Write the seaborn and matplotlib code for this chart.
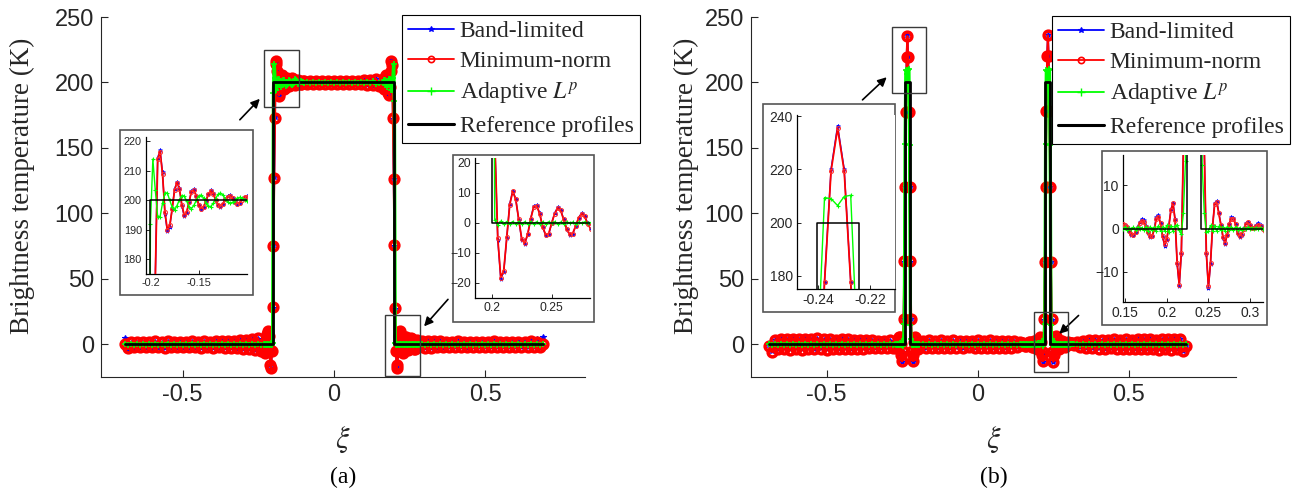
import numpy as np
import matplotlib
matplotlib.use("Agg")
import matplotlib.pyplot as plt
import seaborn as sns
from matplotlib.lines import Line2D
from matplotlib.patches import Rectangle

# ---------------- data (a): square profile, edges at +-0.2 ----------------
# (start, step) of the sample segments along xi
segs_a = [(-0.69, 0.01), (-0.2325, 0.0025), (-0.09, 0.01), (0.1625, 0.0025), (0.29, 0.01)]

red_a = [
    [0.5, -2.5, 2.0, -2.2, 1.8, -2.4, 2.1, -2.0, 1.9, -2.3,
     2.2, -2.1, 1.8, -2.5, 2.3, -2.0, 2.1, -2.2, 1.9, -2.4,
     2.0, -2.3, 2.2, -2.1, 1.8, -2.6, 2.4, -2.2, 2.1, -2.5,
     2.3, -2.4, 2.5, -2.8, 2.6, -2.9, 2.8, -3.2, 3.0, -3.5,
     3.4, -3.8, 3.9, -4.3, 4.5, -4.8],
    [1.3, -3.6, -6.5, -5.0, 1.0, 8.0, 10.2, 6.2, -4.6, -15.6,
     -18.0, -5.3, 28.2, 75.0, 127.0, 173.0, 214.0, 216.5, 209.0, 196.0,
     190.0, 191.5, 197.0, 203.5, 206.0, 204.0, 198.5, 195.0, 196.0, 199.5,
     203.0, 203.4, 201.5, 198.5, 197.2, 197.8, 199.8, 202.0, 203.2, 202.3,
     200.2, 198.5, 198.0, 198.8, 200.3, 201.3, 201.5, 200.8, 199.5, 198.9,
     199.2, 200.2, 201.0, 201.2, 200.6],
    [199.0, 201.4, 198.8, 201.2, 198.9, 201.0, 199.1, 200.9, 199.0, 201.0,
     199.0, 200.9, 199.1, 201.1, 198.9, 201.2, 198.7, 201.4, 198.6, 201.6,
     198.3, 202.0, 197.8, 202.6, 197.5],
    [196.2, 195.2, 198.8, 203.8, 205.8, 203.2, 197.3, 191.8, 190.2, 196.4,
     208.7, 216.3, 213.6, 172.5, 126.5, 75.5, 27.5, -5.1, -18.2, -15.9,
     -4.8, 6.0, 10.4, 7.8, 1.1, -5.3, -6.8, -3.8, 1.3, 5.2,
     5.6, 3.0, -1.4, -4.0, -3.7, -0.1, 3.0, 4.9, 4.1, 1.1,
     -2.0, -3.9, -3.6, -1.1, 1.6, 3.0, 2.1, -0.3, -2.0],
    [2.6, -2.8, 2.5, -2.6, 2.3, -2.4, 2.2, -2.3, 2.1, -2.2,
     2.0, -2.1, 2.2, -2.0, 1.9, -2.3, 2.1, -2.2, 2.0, -2.1,
     1.9, -2.2, 2.0, -2.1, 2.2, -1.9, 2.0, -2.3, 2.1, -2.0,
     1.9, -2.2, 2.0, -2.1, 1.8, -2.3, 2.2, -2.0, 1.9, -2.4,
     0.5],
]

blue_a = [
    [4.5, -4.8, 1.2, -3.4, 1.0, -3.2, 1.3, -3.0, 1.1, -3.3,
     1.4, -3.0, 1.2, -3.1, 1.6, -2.8, 1.5, -2.9, 1.4, -3.0,
     1.6, -2.8, 1.8, -2.6, 1.6, -2.9, 2.1, -2.6, 1.9, -2.8,
     2.2, -2.6, 2.4, -3.0, 2.5, -3.0, 2.7, -3.3, 2.9, -3.6,
     3.3, -3.9, 3.8, -4.4, 4.4, -4.9],
    [1.0, -3.9, -6.8, -5.2, 1.3, 8.4, 10.5, 6.0, -5.0, -16.2,
     -18.6, -5.8, 28.0, 75.5, 127.5, 173.5, 214.5, 217.0, 209.5, 195.5,
     189.5, 191.0, 197.2, 203.8, 206.3, 204.2, 198.2, 194.6, 195.7, 199.4,
     203.2, 203.7, 201.6, 198.3, 196.9, 197.6, 199.9, 202.2, 203.4, 202.4,
     200.1, 198.3, 197.8, 198.7, 200.4, 201.5, 201.7, 200.9, 199.4, 198.7,
     199.1, 200.3, 201.2, 201.4, 200.7],
    [198.8, 201.6, 198.6, 201.4, 198.7, 201.2, 198.9, 201.1, 198.8, 201.2,
     198.8, 201.1, 198.9, 201.3, 198.7, 201.4, 198.5, 201.6, 198.4, 201.8,
     198.1, 202.2, 197.6, 202.8, 197.3],
    [196.0, 194.9, 198.9, 204.1, 206.1, 203.4, 197.0, 191.4, 189.8, 196.5,
     209.2, 216.9, 214.0, 172.0, 126.0, 75.0, 27.0, -5.6, -18.6, -16.3,
     -5.0, 6.2, 10.7, 7.9, 1.0, -5.6, -7.0, -3.9, 1.4, 5.5,
     5.9, 3.1, -1.5, -4.2, -3.9, -0.2, 3.2, 5.1, 4.3, 1.2,
     -2.1, -4.1, -3.8, -1.2, 1.7, 3.2, 2.4, -0.2, -1.8],
    [2.9, -3.0, 2.7, -2.8, 2.5, -2.6, 2.4, -2.5, 2.3, -2.4,
     2.2, -2.3, 2.4, -2.2, 2.1, -2.5, 2.3, -2.4, 2.2, -2.3,
     2.1, -2.4, 2.3, -2.3, 2.6, -2.1, 2.5, -2.4, 2.9, -2.2,
     3.0, -2.3, 3.3, -2.2, 3.6, -2.4, 4.0, -2.3, 4.4, -2.6,
     5.2],
]

green_a = [
    [0.3, -0.4, 0.5, -0.3, 0.2, -0.4, 0.4, -0.2, 0.3, -0.5,
     0.4, -0.3, 0.2, -0.4, 0.5, -0.3, 0.3, -0.2, 0.4, -0.4,
     0.3, -0.3, 0.5, -0.4, 0.2, -0.3, 0.4, -0.5, 0.3, -0.2,
     0.4, -0.3, 0.3, -0.4, 0.5, -0.3, 0.2, -0.4, 0.4, -0.3,
     0.5, -0.4, 0.3, -0.5, 0.4, -0.3],
    [0.2, -0.3, 0.3, -0.2, 0.2, -0.3, 0.4, -0.4, 0.5, -0.5,
     0.6, -0.6, 0.8, 192.0, 214.0, 203.5, 194.5, 194.5, 199.0, 202.5,
     202.5, 200.0, 197.7, 196.8, 198.2, 200.2, 201.6, 201.5, 199.8, 197.8,
     197.2, 198.3, 200.0, 201.4, 201.8, 200.8, 199.2, 198.0, 197.9, 199.0,
     200.6, 202.0, 202.5, 201.8, 200.5, 199.5, 199.0, 199.3, 200.0, 200.8,
     201.0, 200.7, 200.2, 199.8, 199.8],
    [200.4, 199.6, 200.3, 199.7, 200.4, 199.6, 200.3, 199.6, 200.4, 199.7,
     200.3, 199.6, 200.4, 199.7, 200.3, 199.6, 200.4, 199.7, 200.5, 199.5,
     200.6, 199.4, 200.8, 199.2, 199.5],
    [199.8, 201.5, 201.6, 200.2, 198.2, 196.8, 197.7, 200.0, 202.5, 202.5,
     199.0, 194.5, 194.5, 203.5, 214.0, 186.0, 0.8, -0.6, 0.5, -0.5,
     0.4, -0.4, 0.4, -0.3, 0.4, -0.4, 0.3, -0.3, 0.4, -0.3,
     0.3, -0.4, 0.3, -0.3, 0.3, -0.2, 0.3, -0.3, 0.2, -0.3,
     0.3, -0.2, 0.2, -0.3, 0.2, -0.2, 0.3, -0.2, 0.2],
    [0.3, -0.4, 0.4, -0.3, 0.5, -0.4, 0.3, -0.2, 0.4, -0.3,
     0.3, -0.4, 0.2, -0.3, 0.4, -0.4, 0.5, -0.3, 0.3, -0.2,
     0.4, -0.3, 0.3, -0.4, 0.5, -0.3, 0.2, -0.4, 0.4, -0.3,
     0.3, -0.2, 0.4, -0.4, 0.3, -0.3, 0.5, -0.4, 0.3, -0.3,
     0.2],
]

ref_a_x = [-0.69, -0.2, -0.2, 0.2, 0.2, 0.69]
ref_a_y = [0, 0, 200, 200, 0, 0]

# ---------------- data (b): two narrow pulses at +-0.2325 ----------------
segs_b = [(-0.69, 0.01), (-0.2725, 0.0025), (-0.18, 0.01), (0.145, 0.0025), (0.33, 0.01)]

red_b = [
    [-1.0, -6.0, 3.5, -3.8, 4.2, -3.5, 3.8, -4.0, 4.4, -3.6,
     3.9, -4.1, 4.3, -3.4, 3.7, -3.9, 4.5, -3.6, 3.8, -4.2,
     4.0, -3.5, 3.6, -3.9, 4.2, -3.4, 3.8, -3.7, 3.5, -3.6,
     3.4, -3.3, 3.6, -3.2, 3.0, -3.1, 2.8, -2.9, 2.6, -2.7,
     2.9, -3.0],
    [-1.2, -3.1, -2.0, 1.0, 3.8, 5.9, 5.2, 0.2, -8.4, -13.1,
     -5.3, 19.5, 63.5, 120.5, 177.5, 219.5, 235.5, 219.5, 177.5, 120.5,
     63.5, 19.5, -5.3, -12.8, -8.3, 1.6, 5.5, 4.4, 0.8, -2.2,
     -3.5, -2.0, 0.9],
    [2.8, -3.2, 3.0, -2.6, 2.4, -2.8, 2.9, -2.5, 2.3, -2.9,
     3.1, -2.7, 2.5, -3.0, 2.8, -2.4, 2.6, -2.9, 3.0, -2.6,
     2.4, -2.7, 2.9, -3.1, 2.7, -2.5, 2.6, -2.8, 2.4, -2.6,
     2.2, -2.3, 1.9],
    [0.5, 1.0, 0.8, 0.4, -0.5, -1.3, -1.5, -0.9, 0.2, 1.2,
     1.8, 1.5, 0.4, -0.9, -1.8, -1.8, -0.2, 2.2, 2.7, 1.2,
     -1.8, -3.7, -2.5, 0.5, 4.2, 5.8, 2.0, -8.0, -13.0, -5.6,
     19.0, 63.0, 120.0, 178.0, 220.0, 236.0, 220.0, 178.0, 120.0, 63.0,
     19.0, -5.6, -13.4, -8.0, 0.6, 5.7, 6.1, 3.5, 0.8, -1.9,
     -3.3, -1.4, 1.0, 2.3, 2.3, 1.0, -1.0, -1.8, -1.3, 0.0,
     1.0, 1.4, 0.7, 0.2, 0.2, 0.6, 0.9, 0.6, 0.0, -0.5],
    [1.5, -2.0, 2.6, -2.9, 3.2, -3.0, 3.4, -3.3, 3.1, -3.6,
     3.5, -3.2, 3.8, -3.4, 3.3, -3.7, 3.9, -3.5, 3.6, -3.8,
     4.0, -3.6, 3.7, -3.9, 4.1, -3.7, 3.5, -4.0, 3.8, -3.6,
     3.9, -4.2, 4.0, -3.8, 4.3, -5.5, -1.0],
]

blue_b = [
    [-0.6, -5.4, 3.1, -3.4, 3.8, -3.1, 3.4, -3.6, 4.0, -3.2,
     3.5, -3.7, 3.9, -3.0, 3.3, -3.5, 4.1, -3.2, 3.4, -3.8,
     3.6, -3.1, 3.2, -3.5, 3.8, -3.0, 3.4, -3.3, 3.1, -3.2,
     3.0, -2.9, 3.2, -2.8, 2.6, -2.7, 2.4, -2.5, 2.2, -2.3,
     2.5, -2.6],
    [-1.0, -2.9, -2.2, 0.8, 3.9, 6.2, 5.4, 0.0, -8.8, -13.5,
     -5.6, 19.2, 63.2, 120.2, 177.8, 220.2, 236.5, 220.2, 177.8, 120.2,
     63.2, 19.2, -5.6, -13.2, -8.6, 1.4, 5.7, 4.6, 0.6, -2.4,
     -3.7, -1.8, 1.1],
    [2.5, -2.9, 2.7, -2.3, 2.1, -2.5, 2.6, -2.2, 2.0, -2.6,
     2.8, -2.4, 2.2, -2.7, 2.5, -2.1, 2.3, -2.6, 2.7, -2.3,
     2.1, -2.4, 2.6, -2.8, 2.4, -2.2, 2.3, -2.5, 2.1, -2.3,
     1.9, -2.0, 1.7],
    [0.6, 1.1, 0.9, 0.3, -0.6, -1.4, -1.6, -0.8, 0.4, 1.5,
     2.2, 1.9, 0.6, -1.0, -2.0, -1.7, 0.0, 2.6, 3.1, 1.2,
     -2.0, -4.0, -2.6, 0.6, 4.4, 6.0, 2.1, -8.3, -13.3, -5.8,
     18.8, 62.8, 120.3, 178.4, 220.4, 236.6, 220.4, 178.4, 120.3, 62.8,
     18.8, -5.9, -13.8, -8.2, 0.5, 5.9, 6.4, 3.7, 0.9, -2.1,
     -3.6, -1.5, 1.1, 2.6, 2.5, 1.0, -1.2, -2.0, -1.4, 0.1,
     1.2, 1.6, 0.8, 0.2, 0.3, 0.8, 1.3, 0.9, 0.2, -0.4],
    [1.2, -1.8, 2.3, -2.6, 2.9, -2.7, 3.1, -3.0, 2.8, -3.3,
     3.2, -2.9, 3.5, -3.1, 3.0, -3.4, 3.6, -3.2, 3.3, -3.5,
     3.7, -3.3, 3.4, -3.6, 3.8, -3.4, 3.2, -3.7, 3.5, -3.3,
     3.6, -3.9, 3.7, -3.5, 4.0, -5.0, -0.6],
]

green_b = [
    [0.3, -0.3, 0.2, -0.4, 0.3, -0.2, 0.4, -0.3, 0.3, -0.2,
     0.2, -0.3, 0.4, -0.3, 0.2, -0.4, 0.3, -0.3, 0.2, -0.2,
     0.3, -0.4, 0.3, -0.2, 0.4, -0.3, 0.2, -0.3, 0.3, -0.4,
     0.2, -0.3, 0.3, -0.2, 0.4, -0.3, 0.3, -0.4, 0.3, -0.3,
     0.4, -0.3],
    [0.3, -0.3, 0.2, -0.4, 0.4, -0.5, 0.6, -0.6, 0.8, -0.4,
     -1.3, 3.7, 15.5, 153.0, 209.4, 209.0, 206.4, 209.8, 210.3, 152.0,
     14.7, 3.7, -0.8, -0.6, 0.7, -0.5, 0.5, -0.4, 0.4, -0.3,
     0.3, -0.2, 0.2],
    [0.2, -0.3, 0.3, -0.2, 0.3, -0.3, 0.2, -0.2, 0.3, -0.3,
     0.2, -0.3, 0.3, -0.2, 0.2, -0.3, 0.3, -0.2, 0.3, -0.3,
     0.2, -0.2, 0.3, -0.3, 0.2, -0.3, 0.3, -0.2, 0.3, -0.3,
     0.2, -0.2, 0.3],
    [0.2, -0.2, 0.3, -0.3, 0.2, -0.2, 0.3, -0.4, 0.3, -0.2,
     0.2, -0.3, 0.4, -0.5, 0.4, -0.3, 0.3, -0.5, 0.6, -0.5,
     0.4, -0.6, 0.7, -0.8, 0.6, -0.5, 0.6, 0.8, -0.4, -1.3,
     3.7, 15.5, 153.0, 209.4, 209.0, 206.4, 209.8, 210.3, 152.0, 14.7,
     3.7, -0.8, -0.6, 0.7, -0.5, 0.6, -0.6, 0.5, -0.4, 0.4,
     -0.5, 0.4, -0.3, 0.4, -0.3, 0.3, -0.3, 0.2, -0.3, 0.2,
     -0.2, 0.3, -0.2, 0.2, -0.2, 0.2, -0.1, 0.2, -0.1, 0.1],
    [0.3, -0.2, 0.3, -0.3, 0.2, -0.3, 0.4, -0.3, 0.2, -0.3,
     0.3, -0.2, 0.3, -0.4, 0.3, -0.2, 0.3, -0.3, 0.4, -0.3,
     0.2, -0.3, 0.3, -0.2, 0.4, -0.3, 0.3, -0.3, 0.2, -0.4,
     0.3, -0.2, 0.3, -0.3, 0.4, -0.3, 0.2],
]

ref_b_x = [-0.69, -0.2405, -0.2405, -0.2245, -0.2245, 0.2245, 0.2245, 0.2405, 0.2405, 0.69]
ref_b_y = [0, 0, 200, 200, 0, 0, 200, 200, 0, 0]

labels = ["Band-limited", "Minimum-norm", "Adaptive $L^p$", "Reference profiles"]
panel_tags = ["(a)", "(b)"]


def build(segs, parts):
    x = np.concatenate([s + d * np.arange(len(p)) for (s, d), p in zip(segs, parts)])
    y = np.concatenate([np.asarray(p, float) for p in parts])
    return x, y


sns.set_style("ticks")
plt.rcParams["font.family"] = ["Liberation Sans", "DejaVu Sans"]
plt.rcParams["mathtext.fontset"] = "stix"
SERIF = ["Liberation Serif", "DejaVu Serif"]
INK = "#262626"

W, H = 1296, 495
fig = plt.figure(figsize=(W / 100, H / 100), dpi=100)


def px_box(l, t, r, b):
    return [l / W, 1 - b / H, (r - l) / W, (b - t) / H]


main_style = {
    "blue": dict(color="#0000ff", linewidth=1.3, marker="*", markersize=4,
                 markeredgewidth=0.8, markeredgecolor="#0000ff", zorder=2),
    "red": dict(color="#ff0000", linewidth=1.5, marker="o", markersize=6.3,
                markerfacecolor="none", markeredgewidth=2.5, markeredgecolor="#ff0000", zorder=3),
    "green": dict(color="#00ff00", linewidth=2.4, marker="+", markersize=5,
                  markeredgewidth=1.2, markeredgecolor="#00ff00", zorder=4),
    "black": dict(color="black", linewidth=2.0, zorder=5),
}
inset_style = {
    "blue": dict(color="#0000ff", linewidth=1.0, marker="*", markersize=3,
                 markeredgewidth=0.6, markeredgecolor="#0000ff", zorder=2),
    "red": dict(color="#ff0000", linewidth=1.3, marker="o", markersize=2.8,
                markerfacecolor="none", markeredgewidth=0.8, markeredgecolor="#ff3030", zorder=3),
    "green": dict(color="#00ff00", linewidth=1.0, marker="+", markersize=3.5,
                  markeredgewidth=0.8, markeredgecolor="#00ff00", zorder=4),
    "black": dict(color="black", linewidth=1.1, zorder=5),
}


def draw_all(ax, series, style):
    for key, (x, y) in series.items():
        sns.lineplot(x=x, y=y, ax=ax, sort=False, estimator=None, **style[key])


panels = [
    dict(series={"blue": build(segs_a, blue_a), "red": build(segs_a, red_a),
                 "green": build(segs_a, green_a), "black": (np.array(ref_a_x), np.array(ref_a_y))},
         box=(101, 17, 585, 377), xlim=(-0.77, 0.83), legend_xy=(402, 15), ylabel_x=22,
         zoom_boxes=[(-0.232, 181, 0.116, 44), (0.169, -24.4, 0.116, 46.4)],
         arrows=[((-0.311, 171.5), (-0.245, 187.5)), ((0.377, 34.3), (0.298, 13.7))],
         insets=[dict(frame=(120, 130, 253, 295), axes=(146, 137, 247, 274),
                      xlim=(-0.2046, -0.1), ylim=(175, 221.5), fs=7.8,
                      xticks=[-0.2, -0.15], yticks=[180, 190, 200, 210, 220]),
                 dict(frame=(453, 155, 594, 322), axes=(475, 158, 590, 298),
                      xlim=(0.186, 0.282), ylim=(-25, 21.5), fs=8.8,
                      xticks=[0.2, 0.25], yticks=[-20, -10, 0, 10, 20])]),
    dict(series={"blue": build(segs_b, blue_b), "red": build(segs_b, red_b),
                 "green": build(segs_b, green_b), "black": (np.array(ref_b_x), np.array(ref_b_y))},
         box=(751, 17, 1236, 377), xlim=(-0.75, 0.855), legend_xy=(1052, 16), ylabel_x=686,
         zoom_boxes=[(-0.285, 192, 0.115, 50), (0.185, -21, 0.113, 46)],
         arrows=[((-0.381, 186.7), (-0.301, 204)), ((0.334, 22), (0.27, 8))],
         insets=[dict(frame=(763, 104, 895, 312), axes=(797, 115, 895, 289),
                      xlim=(-0.248, -0.2106), ylim=(175, 240.5), fs=10,
                      xticks=[-0.24, -0.22], yticks=[180, 200, 220, 240]),
                 dict(frame=(1102, 151, 1267, 325), axes=(1123, 155, 1263, 302),
                      xlim=(0.1475, 0.3155), ylim=(-17, 17), fs=10,
                      xticks=[0.15, 0.2, 0.25, 0.3], yticks=[-10, 0, 10])]),
]

handles = [
    Line2D([], [], color="#0000ff", lw=1.3, marker="*", ms=4, mew=0.8),
    Line2D([], [], color="#ff0000", lw=1.3, marker="o", ms=4.5, mfc="none", mew=1.2),
    Line2D([], [], color="#00ff00", lw=1.3, marker="+", ms=6, mew=1.0),
    Line2D([], [], color="black", lw=2.2),
]

for p, tag in zip(panels, panel_tags):
    ax = fig.add_axes(px_box(*p["box"]))
    draw_all(ax, p["series"], main_style)
    ax.set_xlim(*p["xlim"])
    ax.set_ylim(-25, 250)
    ax.set_xticks([-0.5, 0, 0.5])
    ax.set_xticklabels(["-0.5", "0", "0.5"])
    ax.set_yticks([0, 50, 100, 150, 200, 250])
    ax.tick_params(direction="in", length=5, width=0.8, labelsize=17, colors=INK, pad=5)
    for side in ["top", "right"]:
        ax.spines[side].set_visible(False)
    for side in ["left", "bottom"]:
        ax.spines[side].set_color(INK)
        ax.spines[side].set_linewidth(0.8)
    l, t, r, b = p["box"]
    ax.set_ylabel("Brightness temperature (K)", fontsize=19.5, family=SERIF, color=INK)
    ax.yaxis.set_label_coords((p["ylabel_x"] - l) / (r - l), 0.53)
    ax.yaxis.label.set_va("center")
    ax.set_xlabel(r"$\xi$", fontsize=22, color=INK)
    ax.xaxis.set_label_coords(0.5, -0.175)
    ax.xaxis.label.set_va("center")
    fig.text((l + r) / 2 / W, 1 - 477 / H, tag, ha="center", va="center",
             fontsize=17, family=SERIF, color="black")

    for (x0, y0, w, h) in p["zoom_boxes"]:
        ax.add_patch(Rectangle((x0, y0), w, h, fill=False, edgecolor="#3a3a3a",
                               lw=1.0, zorder=6, clip_on=False))
    for tail, head in p["arrows"]:
        ax.annotate("", xy=head, xytext=tail, annotation_clip=False,
                    arrowprops=dict(arrowstyle="-|>", color="black", lw=1.2,
                                    mutation_scale=13, shrinkA=0, shrinkB=0))

    lx, ly = p["legend_xy"]
    leg = ax.legend(handles, labels, loc="upper left", bbox_to_anchor=(lx / W, 1 - ly / H),
                    bbox_transform=fig.transFigure, borderaxespad=0, frameon=True,
                    fancybox=False, edgecolor="black", framealpha=1,
                    prop={"family": SERIF, "size": 17}, handlelength=1.95,
                    handletextpad=0.25, labelspacing=0.36, borderpad=0.25)
    leg.get_frame().set_linewidth(0.8)
    leg.set_zorder(10)

    for ins in p["insets"]:
        fig.add_artist(Rectangle((ins["frame"][0] / W, 1 - ins["frame"][3] / H),
                                 (ins["frame"][2] - ins["frame"][0]) / W,
                                 (ins["frame"][3] - ins["frame"][1]) / H,
                                 transform=fig.transFigure, facecolor="white",
                                 edgecolor="#555555", lw=1.2, zorder=3))
        iax = fig.add_axes(px_box(*ins["axes"]))
        iax.set_zorder(4)
        draw_all(iax, p["series"], inset_style)
        iax.set_xlim(*ins["xlim"])
        iax.set_ylim(*ins["ylim"])
        iax.set_xticks(ins["xticks"])
        iax.set_xticklabels([f"{v:g}" for v in ins["xticks"]])
        iax.set_yticks(ins["yticks"])
        iax.tick_params(direction="in", length=3, width=0.7, labelsize=ins["fs"],
                        colors=INK, pad=3)
        for side in ["top", "right"]:
            iax.spines[side].set_visible(False)
        for side in ["left", "bottom"]:
            iax.spines[side].set_color("black")
            iax.spines[side].set_linewidth(0.9)

fig.savefig("out.png", dpi=100)
